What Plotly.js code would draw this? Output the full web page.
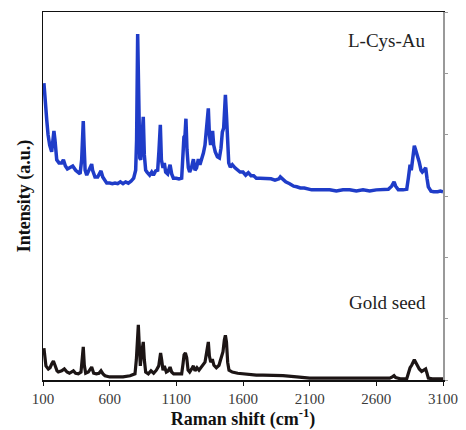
<!DOCTYPE html>
<html><head><meta charset="utf-8">
<script src="https://cdn.plot.ly/plotly-3.0.1.min.js"></script>
<style>html,body{margin:0;padding:0;background:#fff}</style>
</head><body><div id="chart" style="width:466px;height:430px"></div>
<script>
// L-Cys-Au spectrum (offset upward)
const cysX = [107,112,118,128,138,150,165,172,182,190,203,220,240,253,268,283,300,323,345,365,378,390,396,402,408,416,428,445,458,465,472,490,510,525,535,548,565,578,600,620,640,660,680,700,720,740,760,780,795,802,810,818,826,833,842,852,860,870,880,900,915,928,945,960,970,980,988,1000,1010,1020,1035,1053,1065,1078,1100,1120,1140,1150,1157,1165,1172,1180,1190,1200,1213,1228,1240,1252,1265,1277,1290,1303,1315,1325,1333,1340,1348,1357,1365,1372,1380,1392,1408,1423,1435,1445,1455,1462,1468,1476,1484,1493,1505,1520,1540,1560,1578,1600,1620,1640,1660,1680,1700,1728,1750,1780,1810,1840,1870,1880,1895,1920,1950,1980,2003,2030,2060,2090,2115,2150,2200,2250,2300,2350,2400,2450,2500,2550,2600,2650,2690,2715,2733,2745,2765,2800,2828,2840,2853,2862,2875,2885,2895,2908,2922,2935,2945,2958,2970,2980,2990,3010,3030,3060,3080,3100];
const cysY = [4.84,4.73,4.48,4.24,4.00,3.83,3.72,3.91,4.06,3.91,3.59,3.54,3.54,3.59,3.49,3.44,3.46,3.49,3.42,3.38,3.36,3.59,3.99,4.22,3.83,3.42,3.34,3.42,3.51,3.52,3.42,3.31,3.31,3.39,3.41,3.31,3.24,3.21,3.21,3.20,3.21,3.20,3.23,3.20,3.23,3.21,3.24,3.29,3.42,3.91,5.64,4.24,3.62,3.59,3.91,4.29,3.67,3.42,3.39,3.34,3.39,3.34,3.41,3.42,3.75,4.16,3.59,3.46,3.54,3.39,3.36,3.51,3.36,3.29,3.29,3.28,3.29,3.59,3.96,3.99,4.26,3.75,3.46,3.39,3.46,3.60,3.42,3.46,3.60,3.51,3.59,3.70,3.83,4.08,4.37,4.43,4.00,3.83,3.95,4.06,3.83,3.72,3.64,3.62,3.78,4.04,4.11,4.48,4.65,4.32,3.75,3.54,3.47,3.51,3.46,3.42,3.39,3.39,3.34,3.38,3.33,3.33,3.29,3.29,3.29,3.28,3.28,3.26,3.28,3.31,3.28,3.23,3.20,3.16,3.15,3.13,3.13,3.11,3.10,3.10,3.10,3.10,3.08,3.10,3.10,3.08,3.10,3.08,3.10,3.10,3.11,3.16,3.23,3.16,3.10,3.10,3.11,3.29,3.51,3.42,3.72,3.82,3.75,3.67,3.55,3.42,3.39,3.42,3.46,3.29,3.15,3.08,3.07,3.07,3.08,3.07];

// Gold seed spectrum
const seedX = [107,112,122,140,153,165,178,190,205,215,240,260,280,298,315,328,345,365,385,395,402,410,420,440,465,480,500,520,535,550,565,600,650,700,753,790,800,808,815,822,830,838,845,852,860,870,890,910,930,950,968,975,982,990,1000,1010,1025,1040,1053,1065,1080,1110,1140,1150,1158,1168,1178,1188,1200,1215,1228,1240,1255,1270,1285,1300,1315,1328,1335,1340,1348,1358,1370,1382,1400,1420,1432,1440,1450,1460,1468,1476,1485,1495,1520,1560,1600,1650,1700,1750,1800,1850,1900,2003,2100,2200,2300,2400,2500,2600,2700,2720,2733,2745,2780,2828,2840,2853,2865,2875,2885,2895,2908,2922,2940,2955,2970,2980,2990,3020,3060,3100];
const seedY = [0.52,0.41,0.23,0.18,0.20,0.26,0.31,0.24,0.15,0.13,0.15,0.18,0.13,0.11,0.13,0.15,0.11,0.10,0.13,0.41,0.54,0.24,0.11,0.13,0.21,0.11,0.10,0.11,0.15,0.10,0.07,0.05,0.05,0.05,0.07,0.10,0.33,0.82,0.90,0.57,0.23,0.41,0.57,0.62,0.33,0.13,0.10,0.15,0.11,0.16,0.23,0.41,0.44,0.33,0.16,0.23,0.13,0.15,0.21,0.13,0.10,0.10,0.10,0.26,0.41,0.44,0.36,0.16,0.13,0.18,0.23,0.15,0.20,0.16,0.20,0.23,0.29,0.46,0.59,0.62,0.39,0.29,0.34,0.24,0.20,0.24,0.33,0.38,0.46,0.65,0.73,0.62,0.29,0.16,0.13,0.11,0.10,0.10,0.08,0.08,0.08,0.07,0.07,0.05,0.03,0.03,0.03,0.03,0.03,0.03,0.03,0.05,0.07,0.04,0.02,0.02,0.13,0.20,0.24,0.29,0.33,0.29,0.23,0.18,0.14,0.16,0.18,0.11,0.03,0.02,0.02,0.02];

const xTicks = [100,600,1100,1600,2100,2600,3100];
const labels = ["L-Cys-Au","Gold seed"];
const labelY = [5.54,1.27];

const serif = "Liberation Serif, Times New Roman, serif";
const traces = [
  {x: cysX, y: cysY, mode: "lines", line: {color: "#1f3cc8", width: 3.5}, hoverinfo: "skip"},
  {x: seedX, y: seedY, mode: "lines", line: {color: "#1c1515", width: 3.2}, hoverinfo: "skip"},
  {x: [3100], y: [0], yaxis: "y2", mode: "markers", marker: {opacity: 0}, hoverinfo: "skip"}
];
const layout = {
  width: 466, height: 430,
  margin: {l: 43, r: 23, t: 12, b: 50},
  paper_bgcolor: "#ffffff", plot_bgcolor: "#ffffff",
  showlegend: false,
  font: {family: serif, color: "#333"},
  xaxis: {
    range: [100, 3100], tickvals: xTicks, ticktext: xTicks.map(String),
    showgrid: false, zeroline: false,
    showline: true, linecolor: "#111", linewidth: 1.5, mirror: true,
    ticks: "outside", ticklen: 4, tickcolor: "#111",
    tickfont: {family: serif, size: 15, color: "#3a3a3a"},
    title: {text: "<b>Raman shift (cm<sup>-1</sup>)</b>", font: {family: serif, size: 18, color: "#111"}, standoff: 3}
  },
  yaxis: {
    range: [0, 6], showgrid: false, zeroline: false,
    showline: true, linecolor: "#111", linewidth: 1.5,
    ticks: "", showticklabels: false,
    title: {text: "<b>Intensity (a.u.)</b>", font: {family: serif, size: 18, color: "#111"}, standoff: 6}
  },
  yaxis2: {
    range: [0, 6], overlaying: "y", side: "right", dtick: 1,
    showgrid: false, zeroline: false,
    showline: true, linecolor: "#999", linewidth: 1.5,
    ticks: "outside", ticklen: 3, tickcolor: "#999",
    showticklabels: false
  },
  annotations: labels.map((t, i) => ({
    x: 2990, y: labelY[i], xref: "x", yref: "y", text: t, showarrow: false,
    xanchor: "right", yanchor: "middle",
    font: {family: serif, size: 19, color: "#222"}
  }))
};
Plotly.newPlot("chart", traces, layout, {displayModeBar: false, staticPlot: true});
</script></body></html>
